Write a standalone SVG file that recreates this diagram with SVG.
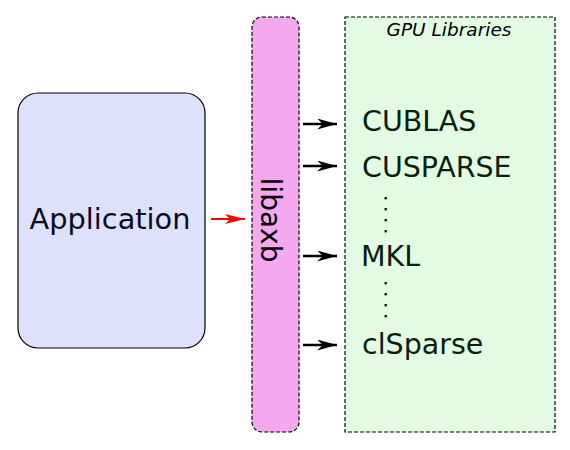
<svg xmlns="http://www.w3.org/2000/svg" width="570" height="450" viewBox="0 0 570 450">
<style>
.lbl{font-family:"DejaVu Sans",sans-serif;fill:#0a1f0a;font-size:28.5px}
.dash{stroke:#000;stroke-width:1.2;stroke-dasharray:4,2}
.arr{stroke:#000;stroke-width:2.4;fill:none}
.dot{fill:#0a1f0a}
</style>
<defs>
<marker id="ah" markerWidth="20" markerHeight="11" refX="20" refY="5.5" orient="auto" markerUnits="userSpaceOnUse" viewBox="0 0 20 11">
<path d="M0,0 L20,5.5 L0,11 L6,5.5 Z" fill="#000"/>
</marker>
<marker id="ahr" markerWidth="20" markerHeight="10" refX="20" refY="5" orient="auto" markerUnits="userSpaceOnUse" viewBox="0 0 20 10">
<path d="M0,0 L20,5 L0,10 L5,5 Z" fill="#f00"/>
</marker>
</defs>
<rect width="570" height="450" fill="#fff"/>
<g id="application">
<rect x="18" y="93" width="187" height="255" rx="20" fill="#dde1fb" stroke="#000" stroke-width="1.2"/>
<text x="110" y="229" text-anchor="middle" font-family="DejaVu Sans,sans-serif" font-size="28.8" fill="#0a0a24">Application</text>
</g>
<g id="libaxb">
<rect x="252" y="17" width="47" height="415" rx="10" fill="#f4a8ee" class="dash"/>
<text transform="translate(261,220) rotate(90)" text-anchor="middle" font-family="DejaVu Sans,sans-serif" font-size="28" fill="#000">libaxb</text>
</g>
<g id="gpu-libraries">
<rect x="345" y="17" width="210" height="415" fill="#e2fbe2" class="dash"/>
<text x="449" y="36" text-anchor="middle" font-family="DejaVu Sans,sans-serif" font-style="italic" font-size="18.5" fill="#000">GPU Libraries</text>
<text x="362" y="131" class="lbl">CUBLAS</text>
<text x="362" y="177" class="lbl">CUSPARSE</text>
<text x="361" y="266" class="lbl">MKL</text>
<text x="362" y="354" class="lbl">clSparse</text>
<g class="dot">
<rect x="384.5" y="197" width="2.4" height="2.4"/>
<rect x="384.5" y="208" width="2.4" height="2.4"/>
<rect x="384.5" y="219" width="2.4" height="2.4"/>
<rect x="384.5" y="230" width="2.4" height="2.4"/>
<rect x="384.5" y="282" width="2.4" height="2.4"/>
<rect x="384.5" y="293" width="2.4" height="2.4"/>
<rect x="384.5" y="304" width="2.4" height="2.4"/>
<rect x="384.5" y="315" width="2.4" height="2.4"/>
</g>
</g>
<g id="connectors">
<line x1="211" y1="219" x2="245" y2="219" stroke="#f00" stroke-width="2" marker-end="url(#ahr)"/>
<line x1="303" y1="124" x2="337" y2="124" class="arr" marker-end="url(#ah)"/>
<line x1="303" y1="166" x2="337" y2="166" class="arr" marker-end="url(#ah)"/>
<line x1="303" y1="256" x2="337" y2="256" class="arr" marker-end="url(#ah)"/>
<line x1="303" y1="345" x2="337" y2="345" class="arr" marker-end="url(#ah)"/>
</g>
</svg>
